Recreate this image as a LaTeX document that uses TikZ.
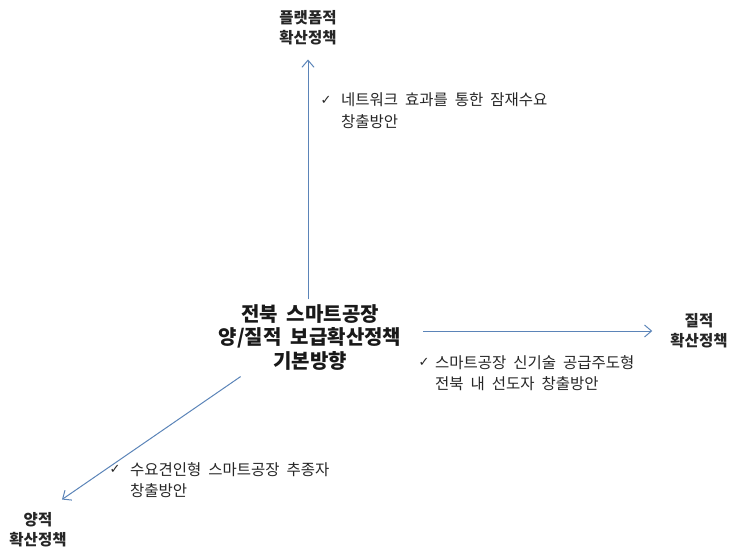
\documentclass[tikz,border=0pt]{standalone}
\usepackage{fontspec}
\setmainfont{Noto Sans CJK KR}[WordSpace=2.0]
\newfontfamily\symf{DejaVu Sans}
\usetikzlibrary{arrows.meta}
\definecolor{arr}{RGB}{91,132,184}
\tikzset{
  conn/.style={draw=arr, line width=1pt, -{Straight Barb[length=7pt,width=12pt]}},
  lbl/.style={font=\fontsize{15.5}{20}\selectfont\bfseries, align=center, inner sep=0pt, text=black!85},
  centerlbl/.style={font=\fontsize{20}{23.5}\selectfont\bfseries, align=center, inner sep=0pt, text=black!90},
  note/.style={font=\fontsize{15.5}{21.5}\selectfont, align=left, anchor=west, inner sep=0pt, text=black!85},
  chk/.style={font=\symf\fontsize{13}{14}\selectfont, inner sep=0pt, text=black!85}
}
\begin{document}
\begin{tikzpicture}[x=1pt,y=-1pt]
\useasboundingbox (0,0) rectangle (736,548);
\node[lbl] (top) at (308,28) {플랫폼적\\확산정책};
\node[lbl] (right) at (699,331) {질적\\확산정책};
\node[lbl] (left) at (38,530) {양적\\확산정책};
\node[centerlbl] (c) at (310,337.5) {전북 스마트공장\\양/질적 보급확산정책\\기본방향};

\draw[conn] ([yshift=5pt]c.north -| top.south) -- ([yshift=-14pt]top.south);
\draw[conn] ([xshift=22pt]c.east |- right.west) -- ([xshift=-18pt]right.west);
\draw[conn] ([shift={(22pt,-6pt)}]c.south west) -- ([shift={(24pt,13pt)}]left.north);

\node[chk] (k1) at (326,100) {✓};
\node[note] (n1) at (341,110.5) {네트워크 효과를 통한 잠재수요\\창출방안};
\node[chk] (k2) at (424,362) {✓};
\node[note] (n2) at (435,373) {스마트공장 신기술 공급주도형\\전북 내 선도자 창출방안};
\node[chk] (k3) at (115,469) {✓};
\node[note] (n3) at (130,480) {수요견인형 스마트공장 추종자\\창출방안};
\end{tikzpicture}
\end{document}
